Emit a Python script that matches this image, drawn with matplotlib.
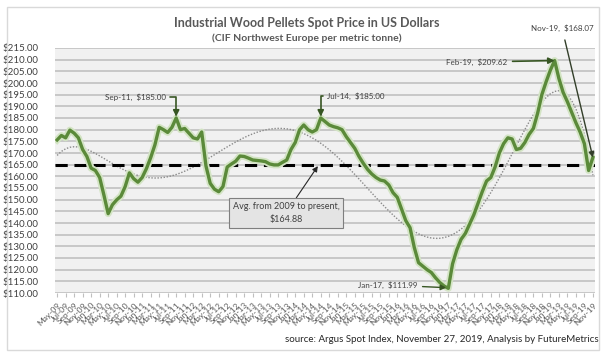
import numpy as np
import pandas as pd
import matplotlib
matplotlib.use("Agg")
import matplotlib.pyplot as plt
import matplotlib.patheffects as pe
from matplotlib.patches import Rectangle

plt.rcParams['font.family'] = ['Lato', 'DejaVu Sans']

# ---------------- data ----------------
start_month = "2009-05"
prices = [175.6, 177.5, 176.5, 179.8, 178.5, 176.5, 171.5, 168.5,
          163.5, 162.5, 159.5, 152.0, 144.0, 147.8, 149.9, 151.5, 155.6, 161.5, 159.0, 157.5,
          159.5, 163.3, 168.0, 173.5, 181.0, 180.0, 178.8, 181.0, 185.0, 180.0, 180.5, 178.5,
          176.5, 176.0, 179.0, 164.5, 157.0, 154.5, 153.4, 155.6, 164.0, 165.3, 166.5, 168.7,
          168.5, 167.8, 167.0, 166.8, 166.6, 166.3, 165.3, 164.9, 164.9, 166.0, 167.0, 171.5,
          174.5, 179.9, 182.0, 180.0, 179.0, 180.0, 185.0, 183.5, 182.0, 181.3, 180.8, 180.0,
          177.0, 174.5, 172.0, 168.5, 165.6, 163.0, 161.0, 159.5, 158.4, 158.0, 156.3, 153.0,
          151.0, 146.0, 141.0, 138.0, 129.5, 123.0, 121.5, 120.0, 118.8, 116.5, 114.5, 113.0,
          111.99, 122.5, 128.5, 133.0, 135.5, 139.5, 143.5, 148.5, 153.5, 158.0, 159.5, 164.0,
          170.0, 174.0, 176.5, 176.0, 171.5, 172.0, 174.5, 178.0, 180.5, 187.0, 195.0, 200.5,
          205.5, 209.62, 202.0, 196.0, 192.0, 187.5, 183.0, 179.0, 174.0, 162.5, 168.07]
avg_value = 164.88
yticks = list(range(110, 216, 5))
months = list(pd.date_range(start_month, periods=len(prices), freq="MS").strftime("%b-%y"))

callouts = [  # (label month, value, text)
    ("Sep-11", 185.00, "Sep-11,  $185.00"),
    ("Jul-14", 185.00, "Jul-14,  $185.00"),
    ("Feb-19", 209.62, "Feb-19,  $209.62"),
    ("Nov-19", 168.07, "Nov-19,  $168.07"),
    ("Jan-17", 111.99, "Jan-17,  $111.99"),
]

# ---------------- figure ----------------
W, H = 613, 358
fig = plt.figure(figsize=(W / 100, H / 100), dpi=100)
fig.patch.set_facecolor("white")

def fx(px):
    return px / W

def fy(py):
    return 1 - py / H

# outer chart border
fig.patches.append(Rectangle((fx(7), fy(350)), fx(599) - fx(7), fy(7) - fy(350),
                             transform=fig.transFigure, fill=False,
                             edgecolor="#d9d9d9", lw=1.0))

ax = fig.add_axes([fx(55), fy(293), fx(595) - fx(55), fy(48) - fy(293)])
ax.set_facecolor("#f1f1f1")
for s in ax.spines.values():
    s.set_visible(False)

x = np.arange(len(prices))
ax.set_xlim(-0.5, len(prices) - 0.5)
ax.set_ylim(110, 215)

ax.set_yticks(yticks)
ax.set_yticklabels([f"${v:.2f}" for v in yticks], fontsize=7, color="#404040")
ax.yaxis.grid(True, color="#c4c4c4", lw=1.3)
ax.set_axisbelow(True)
ax.tick_params(axis="y", length=0, pad=12)

ax.set_xticks(x[::2])
ax.set_xticklabels(months[::2], rotation=45, ha="right", rotation_mode="anchor",
                   fontsize=6, color="#595959")
ax.tick_params(axis="x", length=3, color="#bfbfbf", pad=3)

# trend line (6th order polynomial)
poly = np.polynomial.Polynomial.fit(x + 1, prices, 6)
ax.plot(x, poly(x + 1), color="#8a8a8a", lw=1.0, ls=(0, (1, 1.2)), zorder=3)

# average line
ax.axhline(avg_value, color="black", lw=2.2, ls=(0, (4, 2.2)), zorder=4)

# price line
ax.plot(x, prices, color="#5b8a3a", lw=2.4, zorder=5,
        path_effects=[pe.Stroke(linewidth=5.0, foreground="#d3e4c4"), pe.Normal()])

# ---------------- titles ----------------
fig.text(fx(307), fy(23), "Industrial Wood Pellets Spot Price in US Dollars",
         ha="center", va="center", fontsize=9, fontweight="bold", color="#595959")
fig.text(fx(307), fy(38), "(CIF Northwest Europe per metric tonne)",
         ha="center", va="center", fontsize=7.5, fontweight="bold", color="#595959")
fig.text(fx(599), fy(340),
         "source: Argus Spot Index, November 27, 2019, Analysis by FutureMetrics",
         ha="right", va="center", fontsize=7, color="#262626")

# ---------------- callouts ----------------
idx = {m: i for i, m in enumerate(months)}
ann_kw = dict(fontsize=5.8, color="#404040", textcoords="figure fraction", zorder=8)

m, v, t = callouts[0]
ax.annotate(t, xy=(idx[m], v + 0.6), xytext=(fx(166), fy(97)), ha="right", va="center",
            arrowprops=dict(arrowstyle="-|>", color="#375623", lw=1.2, mutation_scale=9,
                            connectionstyle="angle,angleA=0,angleB=90,rad=0",
                            shrinkA=1, shrinkB=0), **ann_kw)
m, v, t = callouts[1]
ax.annotate(t, xy=(idx[m], v + 0.6), xytext=(fx(327), fy(96)), ha="left", va="center",
            arrowprops=dict(arrowstyle="-|>", color="#375623", lw=1.2, mutation_scale=9,
                            connectionstyle="angle,angleA=0,angleB=90,rad=0",
                            shrinkA=1, shrinkB=0), **ann_kw)
m, v, t = callouts[2]
ax.annotate(t, xy=(idx[m], v), xytext=(fx(507), fy(62)), ha="right", va="center",
            arrowprops=dict(arrowstyle="-|>", color="#375623", lw=1.2, mutation_scale=9,
                            shrinkA=2, shrinkB=0), **ann_kw)
m, v, t = callouts[3]
ax.annotate(t, xy=(idx[m], v), xytext=(fx(562), fy(28)), ha="center", va="center",
            arrowprops=dict(arrowstyle="-|>", color="#333f2a", lw=1.0, mutation_scale=8,
                            shrinkA=4, shrinkB=0), **ann_kw)
m, v, t = callouts[4]
ax.annotate(t, xy=(idx[m] - 0.5, v + 0.3), xytext=(fx(417), fy(285)), ha="right", va="center",
            arrowprops=dict(arrowstyle="-|>", color="#375623", lw=1.0, mutation_scale=8,
                            shrinkA=2, shrinkB=0), **ann_kw)

# average box
ax.annotate(f"Avg. from 2009 to present,\n${avg_value:.2f}", xy=(61.5, avg_value),
            xytext=(fx(286), fy(213)), textcoords="figure fraction",
            ha="center", va="center", fontsize=6.5, color="#404040", linespacing=1.6,
            bbox=dict(boxstyle="square,pad=0.4", fc="#e4e4e4", ec="#7f7f7f", lw=0.8),
            arrowprops=dict(arrowstyle="-|>", color="#262626", lw=0.8, mutation_scale=8,
                            shrinkA=0, shrinkB=1), zorder=8)

fig.savefig("out.png", dpi=100)
